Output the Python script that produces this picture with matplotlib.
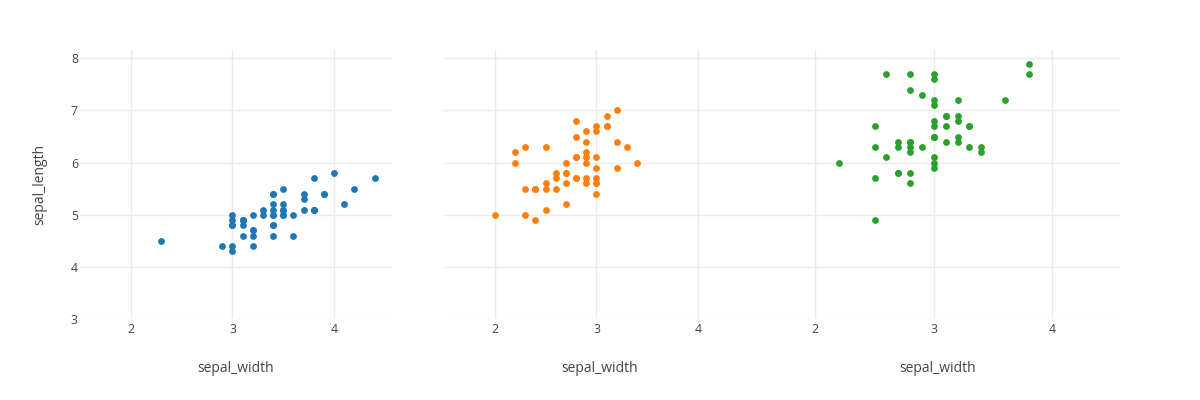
import matplotlib
matplotlib.use("Agg")
import matplotlib.pyplot as plt

# iris: sepal_width (x) vs sepal_length (y), one panel per species
setosa_w = [3.5, 3.0, 3.2, 3.1, 3.6, 3.9, 3.4, 3.4, 2.9, 3.1, 3.7, 3.4, 3.0, 3.0, 4.0, 4.4, 3.9,
            3.5, 3.8, 3.8, 3.4, 3.7, 3.6, 3.3, 3.4, 3.0, 3.4, 3.5, 3.4, 3.2, 3.1, 3.4, 4.1, 4.2,
            3.1, 3.2, 3.5, 3.1, 3.0, 3.4, 3.5, 2.3, 3.2, 3.5, 3.8, 3.0, 3.8, 3.2, 3.7, 3.3]
setosa_l = [5.1, 4.9, 4.7, 4.6, 5.0, 5.4, 4.6, 5.0, 4.4, 4.9, 5.4, 4.8, 4.8, 4.3, 5.8, 5.7, 5.4,
            5.1, 5.7, 5.1, 5.4, 5.1, 4.6, 5.1, 4.8, 5.0, 5.0, 5.2, 5.2, 4.7, 4.8, 5.4, 5.2, 5.5,
            4.9, 5.0, 5.5, 4.9, 4.4, 5.1, 5.0, 4.5, 4.4, 5.0, 5.1, 4.8, 5.1, 4.6, 5.3, 5.0]

versicolor_w = [3.2, 3.2, 3.1, 2.3, 2.8, 2.8, 3.3, 2.4, 2.9, 2.7, 2.0, 3.0, 2.2, 2.9, 2.9, 3.1, 3.0,
                2.7, 2.2, 2.5, 3.2, 2.8, 2.5, 2.8, 2.9, 3.0, 2.8, 3.0, 2.9, 2.6, 2.4, 2.4, 2.7, 2.7,
                3.0, 3.4, 3.1, 2.3, 3.0, 2.5, 2.6, 3.0, 2.6, 2.3, 2.7, 3.0, 2.9, 2.9, 2.5, 2.8]
versicolor_l = [7.0, 6.4, 6.9, 5.5, 6.5, 5.7, 6.3, 4.9, 6.6, 5.2, 5.0, 5.9, 6.0, 6.1, 5.6, 6.7, 5.6,
                5.8, 6.2, 5.6, 5.9, 6.1, 6.3, 6.1, 6.4, 6.6, 6.8, 6.7, 6.0, 5.7, 5.5, 5.5, 5.8, 6.0,
                5.4, 6.0, 6.7, 6.3, 5.6, 5.5, 5.5, 6.1, 5.8, 5.0, 5.6, 5.7, 5.7, 6.2, 5.1, 5.7]

virginica_w = [3.3, 2.7, 3.0, 2.9, 3.0, 3.0, 2.5, 2.9, 2.5, 3.6, 3.2, 2.7, 3.0, 2.5, 2.8, 3.2, 3.0,
               3.8, 2.6, 2.2, 3.2, 2.8, 2.8, 2.7, 3.3, 3.2, 2.8, 3.0, 2.8, 3.0, 2.8, 3.8, 2.8, 2.8,
               2.6, 3.0, 3.4, 3.1, 3.0, 3.1, 3.1, 3.1, 2.7, 3.2, 3.3, 3.0, 2.5, 3.0, 3.4, 3.0]
virginica_l = [6.3, 5.8, 7.1, 6.3, 6.5, 7.6, 4.9, 7.3, 6.7, 7.2, 6.5, 6.4, 6.8, 5.7, 5.8, 6.4, 6.5,
               7.7, 7.7, 6.0, 6.9, 5.6, 7.7, 6.3, 6.7, 7.2, 6.2, 6.1, 6.4, 7.2, 7.4, 7.9, 6.4, 6.3,
               6.1, 7.7, 6.3, 6.4, 6.0, 6.9, 6.7, 6.9, 5.8, 6.8, 6.7, 6.7, 6.3, 6.5, 6.2, 5.9]

panels = [(setosa_w, setosa_l, "#1f77b4"),
          (versicolor_w, versicolor_l, "#ff7f0e"),
          (virginica_w, virginica_l, "#2ca02c")]

# panel boxes in pixels (left, width); plot area is y 50..319 of a 1200x400 figure
boxes = [(80, 312), (444, 312), (756, 364)]

plt.rcParams['font.family'] = ['Open Sans', 'DejaVu Sans']
fig = plt.figure(figsize=(12, 4), dpi=100)

for i, ((xs, ys, col), (left, w)) in enumerate(zip(panels, boxes)):
    ax = fig.add_axes([left / 1200, (400 - 319) / 400, w / 1200, 269 / 400])
    ax.scatter(xs, ys, s=24, color=col, linewidths=0, zorder=3)
    ax.set_xlim(1.5, 4.57)
    ax.set_ylim(3, 8.16)
    ax.set_xticks([2, 3, 4])
    ax.set_yticks([3, 4, 5, 6, 7, 8])
    ax.grid(True, color="#ebebeb", linewidth=1)
    ax.set_axisbelow(True)
    for s in ax.spines.values():
        s.set_visible(False)
    ax.tick_params(length=0, labelsize=8.8, labelcolor="#444444")
    ax.tick_params(axis="x", pad=3)
    ax.tick_params(axis="y", pad=1.5)
    if i > 0:
        ax.tick_params(labelleft=False)
    else:
        ax.set_ylabel("sepal_length", fontsize=10, color="#444444", labelpad=17)
    ax.set_xlabel("sepal_width", fontsize=10, color="#444444", labelpad=18)

fig.savefig("out.png", dpi=100)
